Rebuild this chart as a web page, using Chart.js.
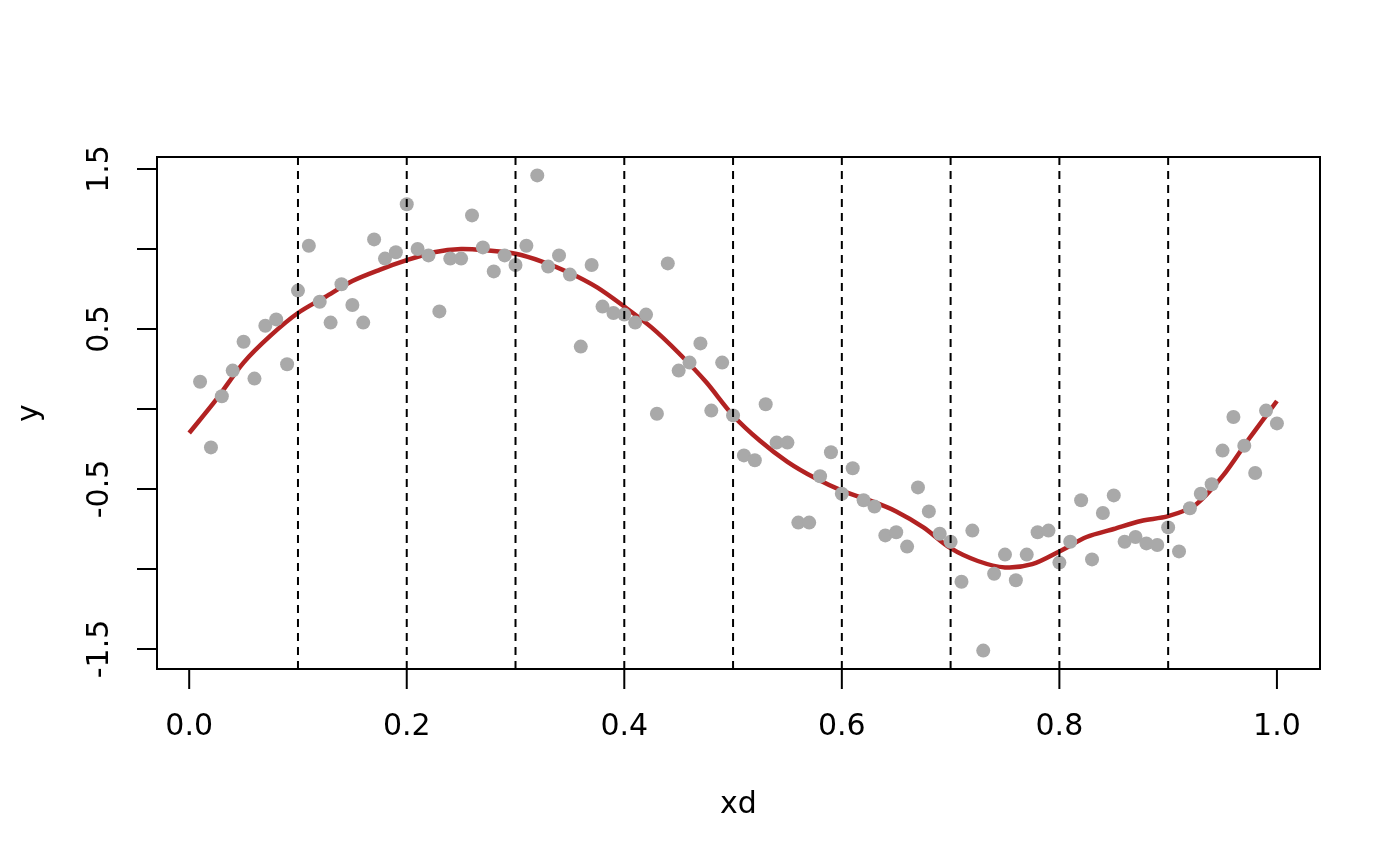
<!DOCTYPE html>
<html lang="en">
<head>
    <meta charset="UTF-8">
    <title>xd vs y</title>
    <script src="https://cdn.jsdelivr.net/npm/chart.js"></script>
    <style>
        body { margin: 0; background: #fff; }
        #wrap { width: 1400px; height: 866px; }
    </style>
</head>
<body>
    <div id="wrap"><canvas id="c" width="1400" height="866"></canvas></div>
    <script>
        // data
        const xd = [0.01,0.02,0.03,0.04,0.05,0.06,0.07,0.08,0.09,0.10,
                    0.11,0.12,0.13,0.14,0.15,0.16,0.17,0.18,0.19,0.20,
                    0.21,0.22,0.23,0.24,0.25,0.26,0.27,0.28,0.29,0.30,
                    0.31,0.32,0.33,0.34,0.35,0.36,0.37,0.38,0.39,0.40,
                    0.41,0.42,0.43,0.44,0.45,0.46,0.47,0.48,0.49,0.50,
                    0.51,0.52,0.53,0.54,0.55,0.56,0.57,0.58,0.59,0.60,
                    0.61,0.62,0.63,0.64,0.65,0.66,0.67,0.68,0.69,0.70,
                    0.71,0.72,0.73,0.74,0.75,0.76,0.77,0.78,0.79,0.80,
                    0.81,0.82,0.83,0.84,0.85,0.86,0.87,0.88,0.89,0.90,
                    0.91,0.92,0.93,0.94,0.95,0.96,0.97,0.98,0.99,1.00];
        const y = [0.17,-0.24,0.08,0.24,0.42,0.19,0.52,0.56,0.28,0.74,
                   1.02,0.67,0.54,0.78,0.65,0.54,1.06,0.94,0.98,1.28,
                   1.00,0.96,0.61,0.94,0.94,1.21,1.01,0.86,0.96,0.90,
                   1.02,1.46,0.89,0.96,0.84,0.39,0.90,0.64,0.60,0.59,
                   0.54,0.59,-0.03,0.91,0.24,0.29,0.41,-0.01,0.29,-0.04,
                   -0.29,-0.32,0.03,-0.21,-0.21,-0.71,-0.71,-0.42,-0.27,-0.53,
                   -0.37,-0.57,-0.61,-0.79,-0.77,-0.86,-0.49,-0.64,-0.78,-0.83,
                   -1.08,-0.76,-1.51,-1.03,-0.91,-1.07,-0.91,-0.77,-0.76,-0.96,
                   -0.83,-0.57,-0.94,-0.65,-0.54,-0.83,-0.80,-0.84,-0.85,-0.74,
                   -0.89,-0.62,-0.53,-0.47,-0.26,-0.05,-0.23,-0.40,-0.01,-0.09];

        // fitted curve (red), read every 0.025
        const fitX = [0.000,0.025,0.050,0.075,0.100,0.125,0.150,0.175,0.200,0.225,
                      0.250,0.275,0.300,0.325,0.350,0.375,0.400,0.425,0.450,0.475,
                      0.500,0.525,0.550,0.575,0.600,0.625,0.650,0.675,0.700,0.725,
                      0.750,0.775,0.800,0.825,0.850,0.875,0.900,0.925,0.950,0.975,1.000];
        const fitY = [-0.15,0.06,0.29,0.46,0.60,0.70,0.80,0.87,0.93,0.98,
                      1.00,0.99,0.97,0.92,0.85,0.76,0.64,0.51,0.35,0.17,
                      -0.04,-0.20,-0.33,-0.43,-0.51,-0.57,-0.64,-0.74,-0.87,-0.95,
                      -0.99,-0.97,-0.89,-0.80,-0.75,-0.70,-0.67,-0.60,-0.42,-0.18,0.05];

        const breaks = [0.1,0.2,0.3,0.4,0.5,0.6,0.7,0.8,0.9];
        const xTicks = [0.0,0.2,0.4,0.6,0.8,1.0];
        const yTicks = [-1.5,-1.0,-0.5,0.0,0.5,1.0,1.5];
        const yLabels = ['-1.5','','-0.5','','0.5','','1.5'];

        const FONT = '30px "DejaVu Sans"';

        const datasets = [];
        breaks.forEach(b => {
            datasets.push({
                type: 'line',
                data: [{x: b, y: -1.625}, {x: b, y: 1.575}],
                borderColor: '#000',
                borderWidth: 2,
                borderDash: [8, 6],
                pointRadius: 0,
                fill: false
            });
        });
        datasets.push({
            type: 'scatter',
            data: xd.map((v, i) => ({x: v, y: y[i]})),
            backgroundColor: '#a9a9a9',
            borderWidth: 0,
            pointRadius: 7
        });
        datasets.push({
            type: 'line',
            data: fitX.map((v, i) => ({x: v, y: fitY[i]})),
            borderColor: '#b22222',
            borderWidth: 4.5,
            pointRadius: 0,
            tension: 0.3,
            fill: false
        });

        // base-graphics style frame, ticks and labels
        const axesPlugin = {
            id: 'rAxes',
            afterDraw(chart) {
                const ctx = chart.ctx;
                const a = chart.chartArea;
                const sx = chart.scales.x, sy = chart.scales.y;
                ctx.save();
                ctx.strokeStyle = '#000';
                ctx.lineWidth = 2;
                ctx.strokeRect(a.left, a.top, a.right - a.left, a.bottom - a.top);

                ctx.fillStyle = '#000';
                ctx.font = FONT;
                ctx.textAlign = 'center';
                ctx.textBaseline = 'middle';
                xTicks.forEach(t => {
                    const px = sx.getPixelForValue(t);
                    ctx.beginPath();
                    ctx.moveTo(px, a.bottom);
                    ctx.lineTo(px, a.bottom + 20);
                    ctx.stroke();
                    ctx.fillText(t.toFixed(1), px, a.bottom + 58);
                });
                yTicks.forEach((t, i) => {
                    const py = sy.getPixelForValue(t);
                    ctx.beginPath();
                    ctx.moveTo(a.left, py);
                    ctx.lineTo(a.left - 20, py);
                    ctx.stroke();
                    if (yLabels[i]) {
                        ctx.save();
                        ctx.translate(a.left - 57, py);
                        ctx.rotate(-Math.PI / 2);
                        ctx.fillText(yLabels[i], 0, 0);
                        ctx.restore();
                    }
                });
                ctx.fillText('xd', (a.left + a.right) / 2, a.bottom + 136);
                ctx.save();
                ctx.translate(a.left - 127, (a.top + a.bottom) / 2);
                ctx.rotate(-Math.PI / 2);
                ctx.fillText('y', 0, 0);
                ctx.restore();
                ctx.restore();
            }
        };

        new Chart(document.getElementById('c').getContext('2d'), {
            data: { datasets: datasets },
            options: {
                responsive: false,
                animation: false,
                layout: { padding: { left: 157, top: 157, right: 80, bottom: 197 } },
                plugins: { legend: { display: false }, tooltip: { enabled: false } },
                scales: {
                    x: { type: 'linear', min: -0.0296, max: 1.0396, display: false },
                    y: { type: 'linear', min: -1.625, max: 1.575, display: false }
                }
            },
            plugins: [axesPlugin]
        });
    </script>
</body>
</html>
